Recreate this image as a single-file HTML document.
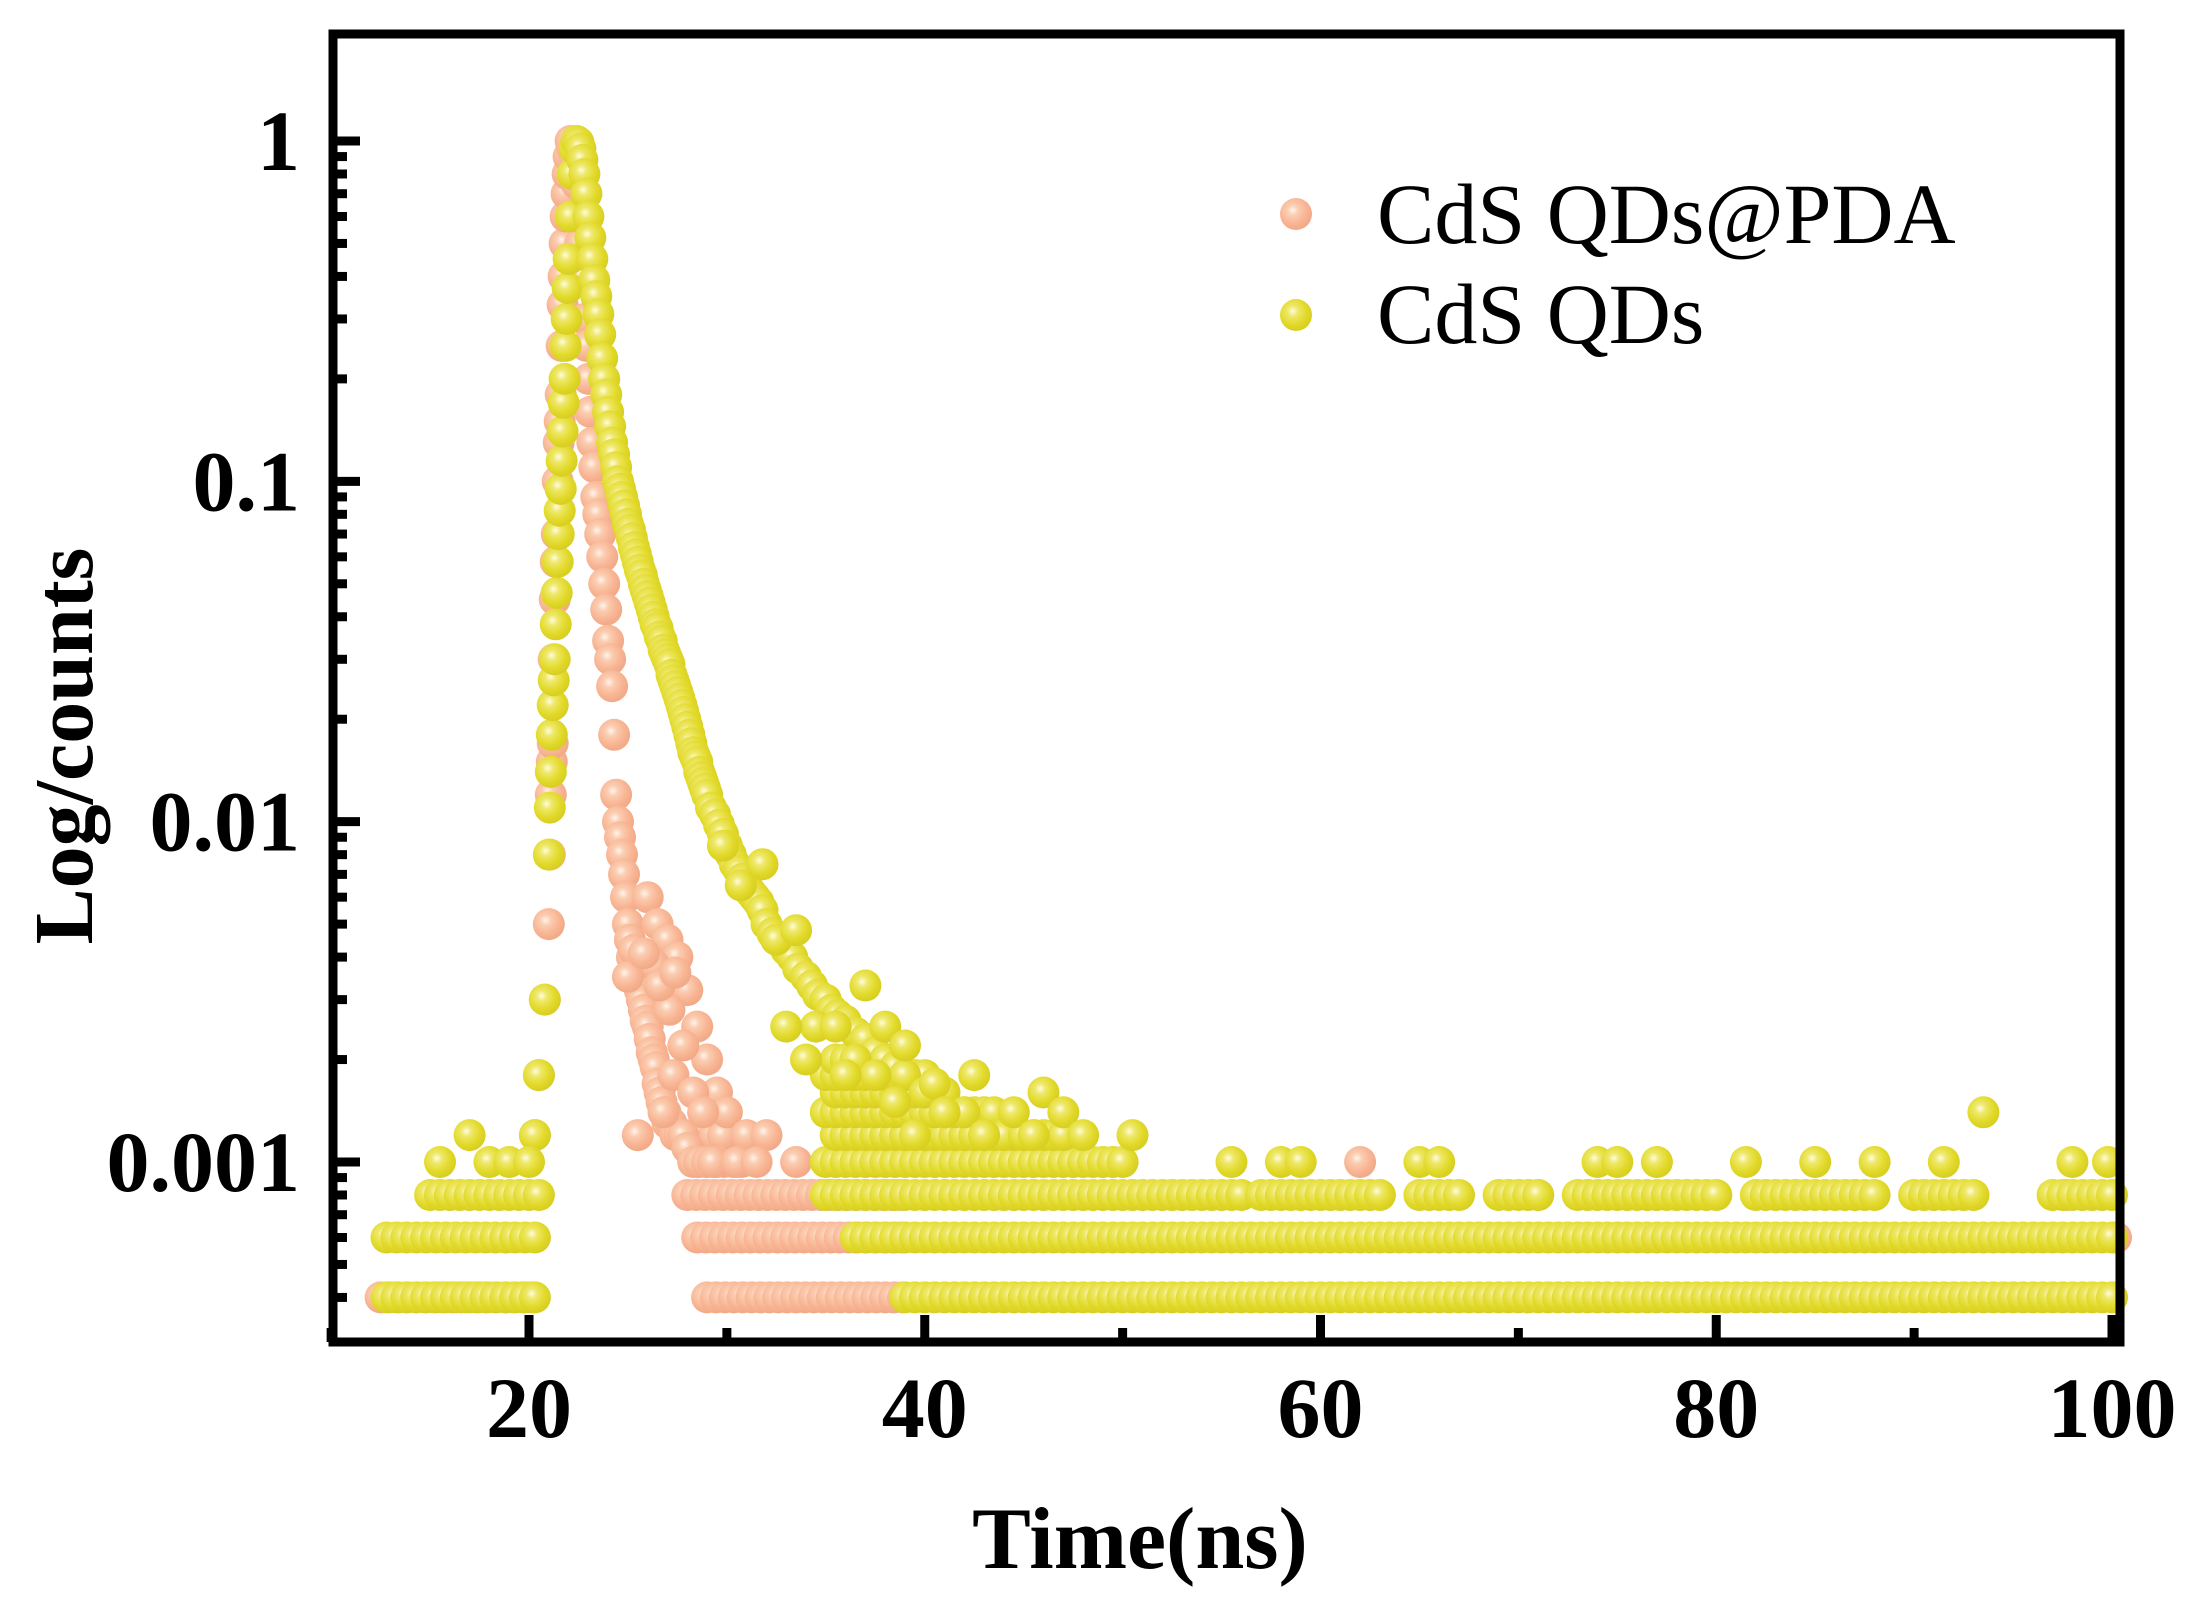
<!DOCTYPE html>
<html><head><meta charset="utf-8"><style>
html,body{margin:0;padding:0;background:#fff;}
svg{display:block;}
</style></head><body>
<svg id="chart" width="2208" height="1600" viewBox="0 0 2208 1600" xmlns="http://www.w3.org/2000/svg">
<defs>
<radialGradient id="gY" cx="0.4" cy="0.38" r="0.6"><stop offset="0" stop-color="#fffbe0"/><stop offset="0.28" stop-color="#eee86a"/><stop offset="0.7" stop-color="#e2da2a"/><stop offset="1" stop-color="#d8cf22"/></radialGradient>
<radialGradient id="gP" cx="0.4" cy="0.38" r="0.6"><stop offset="0" stop-color="#fff4ec"/><stop offset="0.28" stop-color="#fbcdb1"/><stop offset="0.7" stop-color="#f8b594"/><stop offset="1" stop-color="#f2aa88"/></radialGradient>
</defs>
<g id="marks"></g>
<g id="axes"></g>
</svg>
<script>
// ---- data ----
const xTicks = [20, 40, 60, 80, 100];
const xTickLabels = ["20", "40", "60", "80", "100"];
const yTicks = [1, 0.1, 0.01, 0.001];
const yTickLabels = ["1", "0.1", "0.01", "0.001"];
const seriesNames = ["CdS QDs@PDA", "CdS QDs"];

// CdS QDs@PDA decay points
const pdaTime = [20.3,20.5,20.8,21.0,21.05,21.1,21.15,21.2,21.25,21.3,21.35,21.4,21.45,21.5,21.55,21.6,21.65,21.7,21.75,21.8,21.85,21.9,21.95,22.0,22.1,22.2,22.3,22.4,22.5,22.6,22.7,22.8,22.9,23.0,23.1,23.2,23.3,23.4,23.5,23.6,23.7,23.8,23.9,24.0,24.1,24.2,24.3,24.4,24.5,24.6,24.7,24.8,24.9,25.0,25.1,25.2,25.3,25.4,25.5,25.6,25.7,25.8,25.9,26.0,26.1,26.2,26.3,26.4,26.5,26.6,26.7,26.8,26.9,27.0,27.2,27.4,27.6,27.8,28.0,28.3,28.6,29.0,29.5,25.5,26.0,26.5,27.0,27.5,28.0,28.5,29.0,29.5,30.0,31.0,32.0,26.8,27.3,27.8,28.3,28.8,29.3,25.3,26.3,27.1,25.0,25.8,26.6,27.4,30.5,31.5,33.5,62.0,87.0,97.7,71.0,100.2];
const pdaCounts = [0.0012,0.0018,0.003,0.005,0.008,0.012,0.015,0.017,0.03,0.045,0.058,0.07,0.1,0.13,0.15,0.18,0.25,0.33,0.4,0.5,0.6,0.7,0.8,0.9,1.0,0.95,0.9,0.75,0.6,0.5,0.4,0.3,0.25,0.2,0.16,0.13,0.11,0.09,0.08,0.07,0.06,0.05,0.042,0.034,0.03,0.025,0.018,0.012,0.01,0.009,0.008,0.007,0.006,0.005,0.0045,0.004,0.0042,0.0036,0.0035,0.0032,0.003,0.0028,0.0026,0.0025,0.0023,0.0021,0.002,0.0019,0.0017,0.0016,0.0015,0.0014,0.0014,0.0013,0.0013,0.0012,0.0012,0.0012,0.0011,0.001,0.001,0.001,0.001,0.0012,0.006,0.005,0.0045,0.004,0.0032,0.0025,0.002,0.0016,0.0014,0.0012,0.0012,0.0014,0.0018,0.0022,0.0016,0.0014,0.001,0.0042,0.0038,0.0028,0.0035,0.0041,0.0033,0.0036,0.001,0.001,0.001,0.001,0.0008,0.0008,0.0008,0.0006];
// CdS QDs@PDA quantized baseline runs: [level, startTime, endTime]
const pdaRunLevel = [0.0004, 0.0004, 0.0006, 0.0008, 0.001, 0.0012];
const pdaRunStart = [12.5, 29.0, 28.5, 28.0, 28.5, 28.0];
const pdaRunEnd   = [20.5, 39.0, 39.0, 39.0, 31.0, 30.0];

// CdS QDs decay points
const qdTime = [20.3,20.5,20.8,21.0,21.05,21.1,21.15,21.2,21.25,21.3,21.35,21.4,21.45,21.5,21.55,21.6,21.65,21.7,21.75,21.8,21.85,21.9,21.95,22.0,22.1,22.2,22.3,22.4,22.5,22.6,22.7,22.8,22.9,23.0,23.1,23.2,23.3,23.4,23.5,23.6,23.7,23.8,23.9,24.0,24.1,24.2,24.3,24.4,24.5,24.6,24.7,24.8,24.9,25.0,25.1,25.2,25.3,25.4,25.5,25.6,25.7,25.8,25.9,26.0,26.1,26.2,26.3,26.4,26.5,26.6,26.7,26.8,26.9,27.0,27.1,27.2,27.3,27.4,27.5,27.6,27.7,27.8,27.9,28.0,28.1,28.2,28.3,28.4,28.5,28.6,28.7,28.8,28.9,29.0,29.2,29.4,29.6,29.8,30.0,30.2,30.4,30.6,30.8,31.0,31.2,31.4,31.6,31.8,32.0,32.3,32.6,33.0,33.3,33.6,34.0,34.3,34.6,35.0,35.3,35.6,36.0,36.5,37.0,37.5,38.0,38.5,39.0,40.0,41.0,42.0,43.0,44.0,45.0,46.0,47.0,29.8,30.7,31.8,32.5,33.5,34.5,35.5,36.5,37.5,38.5,39.5,40.5,42.5,44.5,33.0,34.0,36.0,37.0,38.0,39.0,41.0,43.0,45.5,48.0,50.5,93.5,17.0,15.5,18.0,19.0,20.0];
const qdCounts = [0.0012,0.0018,0.003,0.008,0.011,0.014,0.018,0.022,0.026,0.03,0.038,0.047,0.058,0.07,0.082,0.095,0.115,0.14,0.17,0.2,0.25,0.3,0.37,0.45,0.6,0.8,0.95,1.0,0.99,0.95,0.88,0.8,0.7,0.6,0.52,0.45,0.39,0.35,0.31,0.27,0.23,0.2,0.18,0.16,0.145,0.13,0.12,0.11,0.1,0.095,0.09,0.085,0.08,0.075,0.072,0.068,0.064,0.061,0.058,0.055,0.053,0.05,0.048,0.046,0.044,0.042,0.04,0.038,0.037,0.035,0.034,0.032,0.031,0.03,0.029,0.027,0.026,0.025,0.024,0.023,0.022,0.021,0.02,0.019,0.018,0.017,0.016,0.0155,0.015,0.014,0.0135,0.013,0.0125,0.012,0.011,0.0105,0.0098,0.0092,0.0085,0.008,0.0075,0.0072,0.0068,0.0065,0.0062,0.006,0.0058,0.0055,0.005,0.0047,0.0045,0.0042,0.004,0.0037,0.0035,0.0033,0.0031,0.003,0.0028,0.0027,0.0026,0.0024,0.0023,0.0021,0.002,0.0019,0.0018,0.0016,0.0014,0.0014,0.0012,0.0012,0.0012,0.0016,0.0014,0.0085,0.0065,0.0075,0.0045,0.0048,0.0025,0.0025,0.002,0.0018,0.0015,0.0012,0.0017,0.0018,0.0014,0.0025,0.002,0.0018,0.0033,0.0025,0.0022,0.0014,0.0012,0.0012,0.0012,0.0012,0.0014,0.0012,0.001,0.001,0.001,0.001];
// CdS QDs quantized baseline runs: [level, startTime, endTime]
const qdRunLevel = [0.0004,0.0004,0.0006,0.0006,0.0008,0.0008,0.0008,0.0008,0.0008,0.0008,0.0008,0.0008,0.0008,0.001,0.0012,0.0014,0.0016,0.0018,0.002];
const qdRunStart = [12.8,39.0,12.8,36.5,15.0,35.0,57.0,65.0,69.0,73.0,82.0,90.0,97.0,35.0,35.5,35.0,35.5,35.0,35.5];
const qdRunEnd   = [20.5,100.0,20.5,100.0,20.5,56.0,63.0,67.0,71.0,80.0,88.0,93.0,100.0,50.0,47.0,43.5,41.0,40.0,38.5];
const qdSingle1e3 = [55.5,58.0,59.0,65.0,66.0,74.0,75.0,77.0,81.5,85.0,88.0,91.5,98.0,99.8];

// ---- scales ----
const X0 = 529, XPER = (2112 - 529) / 80;
const Y1 = 141, DEC = (1162 - 141) / 3;
function sx(t){ return X0 + (t - 20) * XPER; }
function sy(v){ return Y1 - Math.log10(v) * DEC; }
const NS = "http://www.w3.org/2000/svg";
const marks = document.getElementById('marks');
const axes = document.getElementById('axes');
function dot(parent, t, v, fill, name){
  const c = document.createElementNS(NS, 'circle');
  c.setAttribute('cx', sx(t).toFixed(1));
  c.setAttribute('cy', sy(v).toFixed(1));
  c.setAttribute('r', 16);
  c.setAttribute('fill', fill);
  
  
  parent.appendChild(c);
}
function group(name){
  const g = document.createElementNS(NS, 'g');
  
  
  marks.appendChild(g);
  return g;
}
const gp = group('series-cds-qds-pda');
for (let i = 0; i < pdaRunLevel.length; i++)
  for (let t = pdaRunStart[i]; t <= pdaRunEnd[i] + 1e-6; t += 0.45) dot(gp, t, pdaRunLevel[i], 'url(#gP)', 'point-cds-qds-pda');
for (let i = 0; i < pdaTime.length; i++) dot(gp, pdaTime[i], pdaCounts[i], 'url(#gP)', 'point-cds-qds-pda');

const gq = group('series-cds-qds');
for (let i = 0; i < qdRunLevel.length; i++)
  for (let t = qdRunStart[i]; t <= qdRunEnd[i] + 1e-6; t += 0.5) dot(gq, t, qdRunLevel[i], 'url(#gY)', 'point-cds-qds');
for (let i = 0; i < qdSingle1e3.length; i++) dot(gq, qdSingle1e3[i], 0.001, 'url(#gY)', 'point-cds-qds');
for (let i = 0; i < qdTime.length; i++) dot(gq, qdTime[i], qdCounts[i], 'url(#gY)', 'point-cds-qds');

// ---- axes ----
function el(tag, attrs, name, text){
  const e = document.createElementNS(NS, tag);
  for (const k in attrs) e.setAttribute(k, attrs[k]);
  
  
  if (text !== undefined) e.textContent = text;
  axes.appendChild(e);
  return e;
}
const L = 333, R = 2120, T = 34, B = 1342;
el('rect', {x:L, y:T, width:R-L, height:B-T, fill:'none', stroke:'#000', 'stroke-width':9}, 'plot-frame');
for (let i = 0; i < xTicks.length; i++) {
  const x = sx(xTicks[i]);
  el('line', {x1:x, y1:B, x2:x, y2:B-27, stroke:'#000', 'stroke-width':9}, 'x-major-tick');
  el('text', {x:x, y:1437, 'text-anchor':'middle', 'font-family':'Liberation Serif, serif', 'font-weight':'bold', 'font-size':86}, 'x-tick-label', xTickLabels[i]);
}
for (let t = 10; t <= 100; t += 10) {
  if (t % 20 === 0) continue;
  const x = sx(t);
  el('line', {x1:x, y1:B, x2:x, y2:B-14, stroke:'#000', 'stroke-width':9}, 'x-minor-tick');
}
for (let i = 0; i < yTicks.length; i++) {
  const y = sy(yTicks[i]);
  el('line', {x1:L, y1:y, x2:L+27, y2:y, stroke:'#000', 'stroke-width':9}, 'y-major-tick');
  el('text', {x:300, y:y+29, 'text-anchor':'end', 'font-family':'Liberation Serif, serif', 'font-weight':'bold', 'font-size':86}, 'y-tick-label', yTickLabels[i]);
}
for (let d = -4; d <= 0; d++) for (let m = 2; m <= 9; m++) {
  const v = m * Math.pow(10, d);
  const y = sy(v);
  if (y > B - 5 || y < T + 5) continue;
  el('line', {x1:L, y1:y, x2:L+14, y2:y, stroke:'#000', 'stroke-width':9}, 'y-minor-tick');
}
el('text', {x:1140, y:1568, 'text-anchor':'middle', 'font-family':'Liberation Serif, serif', 'font-weight':'bold', 'font-size':88}, 'x-axis-title', 'Time(ns)');
el('text', {x:0, y:0, transform:'translate(92,746) rotate(-90)', 'text-anchor':'middle', 'font-family':'Liberation Serif, serif', 'font-weight':'bold', 'font-size':84}, 'y-axis-title', 'Log/counts');
// legend
el('circle', {cx:1296, cy:214, r:16, fill:'url(#gP)'}, 'legend-marker-cds-qds-pda');
el('text', {x:1377, y:243, 'font-family':'Liberation Serif, serif', 'font-size':86}, 'legend-label-cds-qds-pda', seriesNames[0]);
el('circle', {cx:1296, cy:315, r:16, fill:'url(#gY)'}, 'legend-marker-cds-qds');
el('text', {x:1377, y:343, 'font-family':'Liberation Serif, serif', 'font-size':86}, 'legend-label-cds-qds', seriesNames[1]);
</script>
</body></html>
